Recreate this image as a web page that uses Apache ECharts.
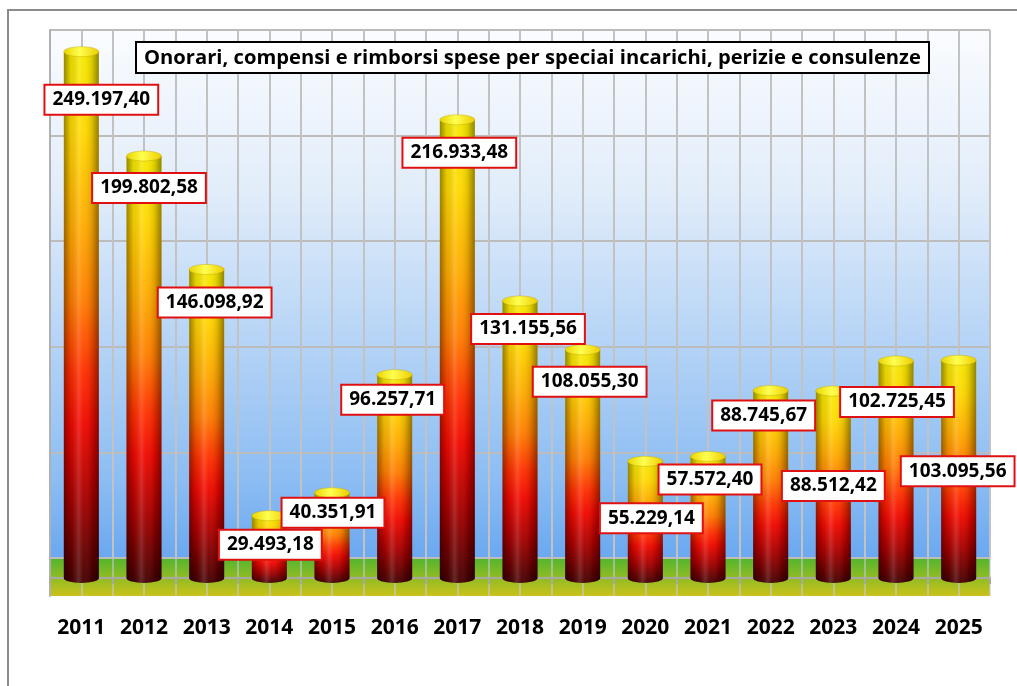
<!DOCTYPE html>
<html>
<head>
<meta charset="utf-8">
<script src="https://cdn.jsdelivr.net/npm/echarts@6/dist/echarts.min.js"></script>
<style>
  html, body { margin: 0; padding: 0; background: #fff; }
  #chart { width: 1017px; height: 686px; }
</style>
</head>
<body>
<div id="chart"></div>
<script>
// Annual amounts (euro)
const years = ['2011','2012','2013','2014','2015','2016','2017','2018','2019','2020','2021','2022','2023','2024','2025'];
const amounts = [249197.40, 199802.58, 146098.92, 29493.18, 40351.91, 96257.71, 216933.48, 131155.56, 108055.30, 55229.14, 57572.40, 88745.67, 88512.42, 102725.45, 103095.56];
const titleText = 'Onorari, compensi e rimborsi spese per speciai incarichi, perizie e consulenze';

// Label placement: pixel offset [dx, dy] from the top of each cylinder
const labelOffsets = [[20,48],[5,32],[8,33],[1,29],[1,20],[-2,25],[2,33],[8,28],[7,32],[6,57],[2,23],[-7,25],[0,95],[1,41],[-1,111]];

const FONT = '"Open Sans", "Noto Sans", sans-serif';
const G = echarts.graphic.LinearGradient;

function itNumber(v) {
  const parts = v.toFixed(2).split('.');
  const int = parts[0].replace(/\B(?=(\d{3})+(?!\d))/g, '.');
  return int + ',' + parts[1];
}

const bodyGrad = () => new G(0, 0, 0, 1, [
  { offset: 0, color: '#f5e800' },
  { offset: 0.15, color: '#ffd800' },
  { offset: 0.33, color: '#ffaa00' },
  { offset: 0.47, color: '#ff7c00' },
  { offset: 0.6, color: '#ff3000' },
  { offset: 0.7, color: '#f00800' },
  { offset: 0.84, color: '#a80000' },
  { offset: 1, color: '#420000' }
]);
const shadeGrad = () => new G(0, 0, 1, 0, [
  { offset: 0, color: 'rgba(0,0,0,0.4)' },
  { offset: 0.2, color: 'rgba(0,0,0,0.08)' },
  { offset: 0.42, color: 'rgba(255,255,255,0.16)' },
  { offset: 0.56, color: 'rgba(255,255,255,0.04)' },
  { offset: 0.8, color: 'rgba(0,0,0,0.12)' },
  { offset: 1, color: 'rgba(0,0,0,0.42)' }
]);
const capGrad = () => new G(0, 0, 1, 0, [
  { offset: 0, color: '#e8d400' },
  { offset: 0.45, color: '#ffff50' },
  { offset: 1, color: '#eccc00' }
]);

function renderCylinder(params, api) {
  const v = api.value(1);
  const top = api.coord([api.value(0), v]);
  const base = api.coord([api.value(0), 0]);
  const w = 35, rx = w / 2, ry = 5;
  const x0 = top[0] - rx, x1 = top[0] + rx;
  const d = 'M' + x0 + ' ' + top[1] + ' L' + x0 + ' ' + base[1] +
            ' A' + rx + ' ' + ry + ' 0 0 0 ' + x1 + ' ' + base[1] +
            ' L' + x1 + ' ' + top[1] + ' Z';
  const box = { x: x0, y: top[1], width: w, height: base[1] + ry - top[1], layout: 'cover' };
  return {
    type: 'group',
    children: [
      { type: 'path', shape: Object.assign({ pathData: d }, box), style: { fill: bodyGrad() } },
      { type: 'path', shape: Object.assign({ pathData: d }, box), style: { fill: shadeGrad() } },
      { type: 'ellipse', shape: { cx: top[0], cy: top[1], rx: rx, ry: ry },
        style: { fill: capGrad(), stroke: 'rgba(190,160,0,0.5)', lineWidth: 0.8 } }
    ]
  };
}

function renderLabel(params, api) {
  const v = api.value(1);
  const top = api.coord([api.value(0), v]);
  const off = labelOffsets[params.dataIndex];
  return {
    type: 'text',
    x: top[0] + off[0],
    y: top[1] + off[1],
    style: {
      text: itNumber(v),
      font: 'bold 19px ' + FONT,
      fill: '#000',
      align: 'center',
      verticalAlign: 'middle',
      backgroundColor: '#fff',
      borderColor: '#e01010',
      borderWidth: 2,
      padding: [5, 7, 4, 7]
    }
  };
}

const seriesData = amounts.map((v, i) => [i, v]);

const chart = echarts.init(document.getElementById('chart'), null, { renderer: 'canvas' });
chart.setOption({
  animation: false,
  title: {
    text: titleText,
    left: 136,
    top: 42,
    padding: [6, 8, 5, 8],
    backgroundColor: '#fff',
    borderColor: '#000',
    borderWidth: 2,
    textStyle: { fontFamily: FONT, fontWeight: 'bold', fontSize: 20.2, color: '#000' }
  },
  graphic: [
    { type: 'rect', shape: { x: 8, y: 10, width: 1100, height: 700 }, z: -10,
      style: { fill: 'none', stroke: '#8c8c8c', lineWidth: 2 }, silent: true }
  ],
  grid: [
    { // back wall
      left: 50, top: 30, width: 940, height: 528, show: true, borderWidth: 0,
      backgroundColor: new G(0, 0, 0, 1, [
        { offset: 0, color: '#fafcff' },
        { offset: 0.3, color: '#e2edfa' },
        { offset: 0.6, color: '#b4d3f6' },
        { offset: 0.85, color: '#8cbdf3' },
        { offset: 1, color: '#6aa8f0' }
      ])
    },
    { // floor
      left: 50, top: 558, width: 940, height: 38, show: true, borderWidth: 0,
      backgroundColor: new G(0, 0, 0, 1, [
        { offset: 0, color: '#52b52e' },
        { offset: 1, color: '#cac21a' }
      ])
    },
    { // cylinders
      left: 50, top: 50, width: 940, height: 528
    }
  ],
  xAxis: [
    { gridIndex: 0, type: 'value', min: 0, max: 30, interval: 1,
      axisLine: { show: false }, axisTick: { show: false }, axisLabel: { show: false },
      splitLine: { show: true, lineStyle: { color: '#c2c2c2', width: 2 } } },
    { gridIndex: 1, type: 'value', min: 0, max: 30, interval: 1,
      axisLine: { show: false }, axisTick: { show: false }, axisLabel: { show: false },
      splitLine: { show: true, lineStyle: { color: 'rgba(200,200,215,0.75)', width: 1.5 } } },
    { gridIndex: 2, type: 'category', data: years, offset: 19,
      axisLine: { show: true, lineStyle: { color: '#a8a8a8', width: 2 } },
      axisTick: { show: true, length: 6, lineStyle: { color: '#a8a8a8', width: 2 } },
      axisLabel: { margin: 21, color: '#000', fontFamily: FONT, fontWeight: 'bold', fontSize: 21 } }
  ],
  yAxis: [
    { gridIndex: 0, type: 'value', min: 0, max: 250000, interval: 50000,
      axisLine: { show: true, lineStyle: { color: '#b0b0b0', width: 2 } },
      axisTick: { show: false }, axisLabel: { show: false },
      splitLine: { show: true, lineStyle: { color: '#bcbcbc', width: 2 } } },
    { gridIndex: 1, type: 'value', min: 0, max: 1,
      axisLine: { show: true, lineStyle: { color: '#b0b0b0', width: 2 } },
      axisTick: { show: false }, axisLabel: { show: false }, splitLine: { show: false } },
    { gridIndex: 2, type: 'value', min: 0, max: 250000, interval: 50000, show: false }
  ],
  series: [
    { type: 'custom', xAxisIndex: 2, yAxisIndex: 2, renderItem: renderCylinder,
      data: seriesData, z: 5 },
    { type: 'custom', xAxisIndex: 2, yAxisIndex: 2, renderItem: renderLabel,
      data: seriesData, z: 10 }
  ]
});
</script>
</body>
</html>
